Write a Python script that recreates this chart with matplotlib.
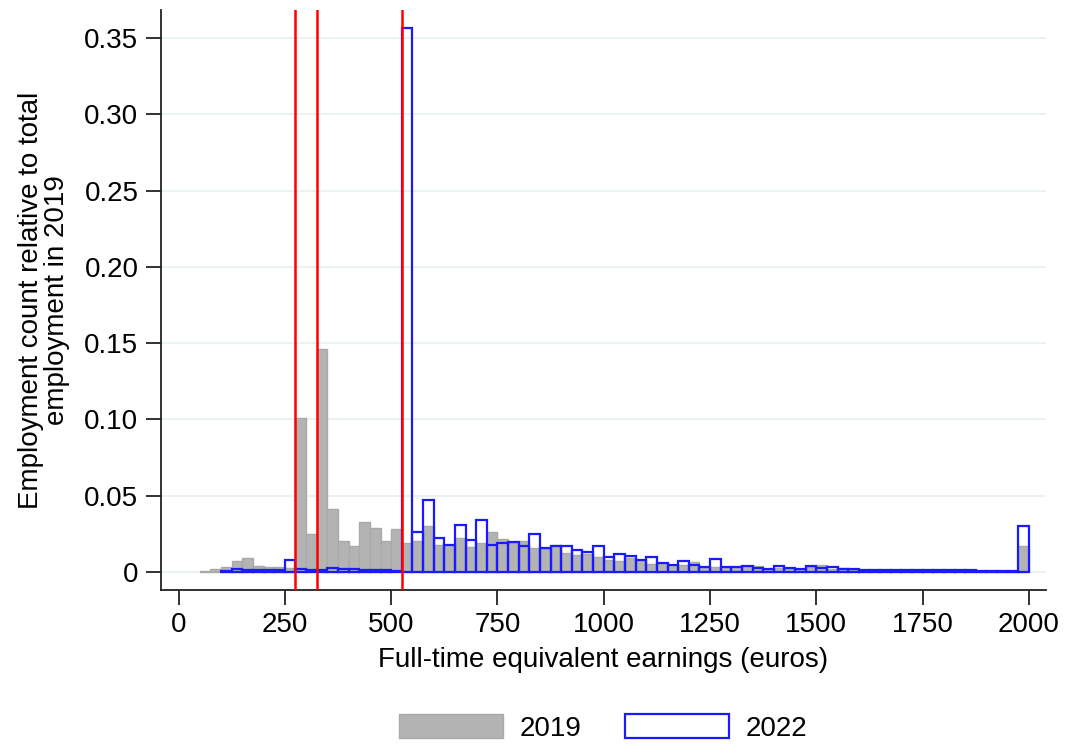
import numpy as np
import matplotlib
matplotlib.use("Agg")
import matplotlib.pyplot as plt
from matplotlib.patches import Patch

plt.rcParams['font.family'] = ['Liberation Sans', 'DejaVu Sans']

# Earnings bins (left edges, euros), width 25
bin_width = 25
bin_left = np.arange(50, 2000, bin_width)

# Share of 2019 total employment per bin
share_2019 = [
    0.0007, 0.002, 0.003, 0.007, 0.009, 0.004, 0.0035, 0.003, 0.0026, 0.101,
    0.0246, 0.1465, 0.041, 0.020, 0.017, 0.0327, 0.029, 0.020, 0.028, 0.019,
    0.0204, 0.030, 0.0178, 0.0178, 0.022, 0.0167, 0.019, 0.026, 0.0215, 0.019,
    0.020, 0.016, 0.015, 0.018, 0.0127, 0.011, 0.0118, 0.010, 0.008, 0.0072,
    0.009, 0.0077, 0.0053, 0.0057, 0.0048, 0.0046, 0.0064, 0.0035, 0.0035, 0.0031,
    0.0031, 0.0039, 0.004, 0.0022, 0.0028, 0.0024, 0.0022, 0.003, 0.0044, 0.0022,
    0.0024, 0.0015,
    0.0013, 0.0012, 0.0013, 0.0012, 0.0011, 0.0010, 0.0012, 0.0010, 0.0011, 0.0009, 0.0008,
    0.0005, 0.0005, 0.0005, 0.0005,
    0.017,
]

share_2022 = [
    0.0, 0.0, 0.0005, 0.002, 0.0012, 0.0012, 0.0012, 0.0012, 0.008, 0.002,
    0.001, 0.001, 0.0026, 0.0018, 0.002, 0.0012, 0.0012, 0.001, 0.0008, 0.357,
    0.026, 0.047, 0.0226, 0.018, 0.031, 0.021, 0.034, 0.0175, 0.019, 0.0197,
    0.017, 0.0246, 0.0158, 0.017, 0.017, 0.0143, 0.013, 0.017, 0.010, 0.0118,
    0.0107, 0.0077, 0.0096, 0.0061, 0.0048, 0.0072, 0.0048, 0.0035, 0.0086, 0.0035,
    0.0035, 0.004, 0.0024, 0.0022, 0.004, 0.0024, 0.0018, 0.004, 0.0024, 0.003,
    0.0022, 0.0018,
    0.0016, 0.0015, 0.0015, 0.0015, 0.0014, 0.0013, 0.0013, 0.0012, 0.0013, 0.0012, 0.0011,
    0.0007, 0.0007, 0.0007, 0.0007,
    0.030,
]

# Minimum wage thresholds (euros)
thresholds = [275, 325, 525]

x_ticks = [0, 250, 500, 750, 1000, 1250, 1500, 1750, 2000]
y_ticks = [0, 0.05, 0.10, 0.15, 0.20, 0.25, 0.30, 0.35]
y_tick_labels = ["0", "0.05", "0.10", "0.15", "0.20", "0.25", "0.30", "0.35"]

share_2019 = np.array(share_2019)
share_2022 = np.array(share_2022)

fig = plt.figure(figsize=(10.67, 7.47), dpi=100)
ax = fig.add_axes([0.1506, 0.2102, 0.9803 - 0.1506, 0.9866 - 0.2102])

ax.bar(bin_left, share_2019, width=bin_width, align='edge',
       color='#b3b3b3', edgecolor='#a9a9a9', linewidth=1.0, zorder=2)

mask = share_2022 > 0
ax.bar(bin_left[mask], share_2022[mask], width=bin_width, align='edge',
       facecolor='none', edgecolor='#1a1aff', linewidth=1.6, zorder=3)

for t in thresholds:
    ax.axvline(t, color='#ff0000', linewidth=1.8, zorder=4)

ax.set_xlim(-42, 2040)
ax.set_ylim(-0.0118, 0.3685)
ax.set_xticks(x_ticks)
ax.set_yticks(y_ticks)
ax.set_yticklabels(y_tick_labels)

ax.grid(axis='y', color='#eaf2f3', linewidth=1.5, zorder=0)
ax.set_axisbelow(True)

for side in ['top', 'right']:
    ax.spines[side].set_visible(False)
for side in ['left', 'bottom']:
    ax.spines[side].set_color('#222222')
    ax.spines[side].set_linewidth(1.3)

ax.tick_params(axis='both', direction='out', length=11, width=1.3,
               color='#222222', labelsize=20, pad=5)

ax.set_xlabel("Full-time equivalent earnings (euros)", fontsize=20, labelpad=6)
ax.set_ylabel("Employment count relative to total\nemployment in 2019",
              fontsize=20, labelpad=10, linespacing=1.0)

handles = [
    Patch(facecolor='#b3b3b3', edgecolor='#a9a9a9', linewidth=1.0, label='2019'),
    Patch(facecolor='white', edgecolor='#1a1aff', linewidth=1.6, label='2022'),
]
fig.legend(handles=handles, loc='center', bbox_to_anchor=(0.565, 0.026),
           ncol=2, frameon=False, fontsize=20, handlelength=3.75,
           handleheight=1.0, handletextpad=0.6, columnspacing=1.55)

fig.savefig("out.png", dpi=100)
